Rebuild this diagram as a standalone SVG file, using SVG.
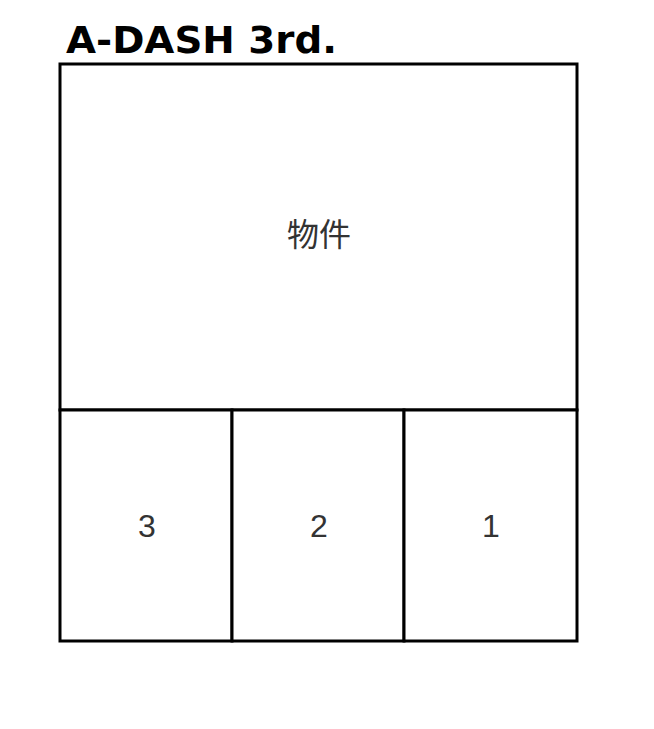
<svg xmlns="http://www.w3.org/2000/svg" width="654" height="729" viewBox="0 0 654 729">
<style>
.box{fill:#fff;stroke:#000;stroke-width:3}
.lbl{font-family:"Liberation Sans","Noto Sans CJK JP",sans-serif;font-size:32px;fill:#333;text-anchor:middle}
.title{font-family:"DejaVu Sans",sans-serif;font-weight:bold;font-size:38px;fill:#000}
</style>
<rect width="654" height="729" fill="#fff"/>
<text class="title" x="66" y="53" textLength="271" lengthAdjust="spacingAndGlyphs">A-DASH 3rd.</text>
<g id="node-main"><rect class="box" x="60" y="64" width="517" height="346"/><text class="lbl" x="319" y="246">物件</text></g>
<g id="node-3"><rect class="box" x="60" y="410" width="172" height="231"/><text class="lbl" x="147" y="537">3</text></g>
<g id="node-2"><rect class="box" x="232" y="410" width="172" height="231"/><text class="lbl" x="319" y="537">2</text></g>
<g id="node-1"><rect class="box" x="404" y="410" width="173" height="231"/><text class="lbl" x="491" y="537">1</text></g>
<g id="connectors"></g>
</svg>
